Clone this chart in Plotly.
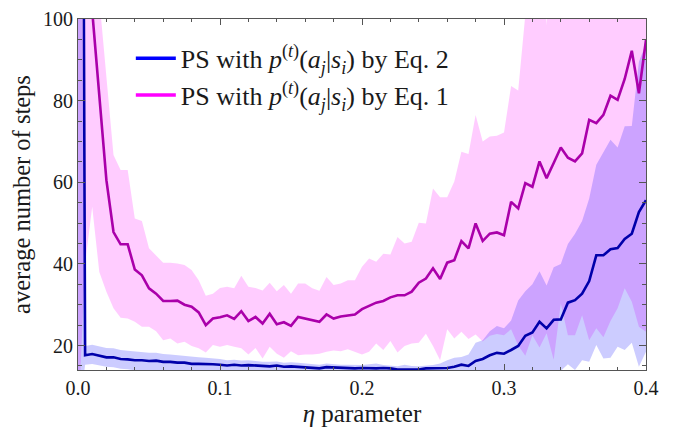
import numpy as np
import plotly.graph_objects as go

# eta grid (step 0.005)
eta = np.round(np.arange(81) * 0.005, 3)

# PS with Eq. 1 (magenta): mean, upper and lower band
eq1_mean = [300, 150, 102, 81, 60.5, 47.8, 44.8, 44.8, 38.6, 37.2,
            34.0, 32.7, 30.9, 30.9, 31.0, 30.0, 29.5, 28.1, 25.0, 26.6,
            26.9, 27.4, 26.5, 28.4, 26.0, 27.0, 25.4, 27.8, 25.2, 25.7,
            24.8, 27.0, 26.6, 26.1, 25.8, 27.6, 26.6, 27.1, 27.3, 27.6,
            28.9, 29.7, 30.5, 30.9, 31.8, 32.3, 32.3, 33.2, 35.4, 36.4,
            38.9, 36.3, 40.3, 40.9, 45.6, 43.8, 49.9, 45.6, 47.4, 47.7,
            47.0, 55.2, 53.6, 59.8, 58.9, 65.1, 61.0, 64.7, 68.5, 66.0,
            65.1, 67.1, 75.3, 74.5, 76.5, 81.2, 80.2, 85.3, 92.2, 81.8,
            94.9]
eq1_hi = [130, 130, 130, 105, 85.6, 66.7, 63.0, 63.0, 51.1, 50.5,
          43.8, 42.1, 40.3, 40.3, 40.1, 39.7, 38.5, 36.0, 32.2, 32.7,
          34.1, 34.4, 34.0, 37.1, 34.4, 34.1, 33.5, 35.4, 33.3, 34.8,
          32.7, 35.2, 35.2, 34.0, 33.4, 36.8, 34.8, 35.2, 36.0, 36.0,
          39.3, 41.3, 40.5, 42.5, 42.3, 46.6, 45.0, 45.4, 50.1, 49.9,
          58.5, 56.3, 56.3, 60.2, 67.5, 66.9, 76.5, 70.0, 71.2, 71.4,
          72.2, 83.6, 82.5, 101, 130, 130, 98.5, 130, 130, 130,
          130, 130, 130, 130, 130, 130, 130, 130, 130, 130,
          130]
eq1_lo = [0, 40, 54.0, 38.0, 33.2, 29.1, 26.8, 26.6, 25.8, 24.6,
          24.6, 23.5, 21.3, 21.7, 20.5, 20.9, 19.9, 19.3, 18.3, 20.1,
          19.7, 20.1, 19.7, 19.3, 17.8, 19.4, 16.8, 19.7, 18.0, 17.0,
          18.6, 17.6, 17.8, 17.8, 18.0, 18.5, 18.8, 18.6, 19.1, 18.5,
          17.8, 18.5, 20.5, 18.9, 21.1, 18.3, 19.9, 20.5, 20.7, 22.9,
          19.9, 16.4, 24.0, 21.7, 23.4, 21.6, 22.7, 21.0, 22.4, 22.8,
          22.5, 24.0, 20.0, 17.5, 22.5, 19.5, 23.0, 16.5, 30.3, 22.5,
          22.5, 27.4, 21.3, 24.2, 22.0, 26.0, 29.1, 34.0, 30.7, 24.6,
          23.4]

# PS with Eq. 2 (blue): mean, upper and lower band
eq2_mean = [500, 17.6, 17.9, 17.5, 17.1, 17.1, 16.7, 16.6, 16.4, 16.4,
            16.2, 16.3, 16.0, 16.0, 15.8, 15.8, 15.5, 15.5, 15.5, 15.4,
            15.3, 15.1, 15.3, 15.1, 15.2, 15.1, 14.9, 14.9, 15.1, 14.8,
            14.9, 14.8, 14.7, 14.6, 14.4, 14.7, 14.6, 14.5, 14.5, 14.4,
            14.5, 14.4, 14.4, 14.5, 14.4, 14.1, 14.1, 14.1, 14.1, 14.4,
            14.4, 14.5, 14.5, 14.8, 15.3, 15.0, 16.2, 16.7, 17.6, 18.2,
            18.0, 18.9, 19.9, 22.4, 23.2, 25.8, 24.2, 26.3, 26.4, 30.5,
            31.1, 32.7, 35.8, 42.1, 42.1, 43.6, 43.9, 46.1, 47.4, 52.7,
            55.6]
eq2_hi = [200, 19.9, 20.2, 19.8, 19.4, 19.3, 18.9, 18.7, 18.5, 18.4,
          18.2, 18.2, 17.9, 17.8, 17.6, 17.5, 17.2, 17.1, 17.0, 16.9,
          16.7, 16.4, 16.5, 16.3, 16.4, 16.2, 16.0, 16.0, 16.1, 15.8,
          15.9, 15.8, 15.6, 15.5, 15.3, 15.6, 15.4, 15.3, 15.3, 15.2,
          15.2, 15.4, 15.6, 15.2, 15.1, 14.9, 15.3, 15.0, 14.9, 15.1,
          15.2, 15.6, 16.4, 17.0, 17.2, 17.8, 20.7, 21.3, 23.5, 24.8,
          24.2, 26.1, 31.0, 33.3, 35.0, 38.2, 34.7, 39.2, 40.0, 44.9,
          47.4, 50.5, 56.0, 64.3, 67.5, 70.4, 68.5, 73.7, 73.8, 89.5,
          94.0]
eq2_lo = [0, 15.3, 15.5, 15.2, 14.8, 14.7, 14.3, 14.2, 13.9, 13.8,
          13.6, 13.6, 13.4, 13.3, 13.2, 13.1, 13.0, 12.9, 12.9, 12.8,
          12.7, 12.6, 12.7, 12.5, 12.6, 12.5, 12.4, 12.4, 12.5, 12.3,
          12.3, 12.2, 12.2, 12.1, 12.0, 12.2, 12.1, 12.0, 12.0, 12.0,
          12.0, 12.0, 12.0, 12.0, 12.0, 11.8, 11.8, 11.8, 11.8, 12.0,
          12.0, 12.0, 12.0, 12.2, 12.5, 12.3, 12.8, 12.9, 13.0, 13.1,
          13.0, 13.2, 13.3, 13.4, 13.5, 13.6, 13.5, 13.7, 13.8, 15.4,
          14.0, 16.4, 16.0, 20.1, 16.8, 17.0, 19.7, 18.9, 20.7, 14.8,
          18.5]

x_ticks = [0.0, 0.1, 0.2, 0.3, 0.4]
x_ticklabels = ["0.0", "0.1", "0.2", "0.3", "0.4"]
y_ticks = [20, 40, 60, 80, 100]
y_ticklabels = ["20", "40", "60", "80", "100"]

label_eq2 = "PS with <i>p</i><sup>(<i>t</i>)</sup>(<i>a</i><sub><i>j</i></sub>|<i>s</i><sub><i>i</i></sub>) by Eq. 2"
label_eq1 = "PS with <i>p</i><sup>(<i>t</i>)</sup>(<i>a</i><sub><i>j</i></sub>|<i>s</i><sub><i>i</i></sub>) by Eq. 1"

FONT = "Liberation Serif"
PINK_FILL = "rgba(255,0,255,0.2)"
BLUE_FILL = "rgba(0,0,255,0.2)"
TXT = "#1a1a1a"
AX = "#555555"

fig = go.Figure()
# magenta band
fig.add_trace(go.Scatter(x=eta, y=eq1_lo, mode="lines", line=dict(width=0),
                         showlegend=False, hoverinfo="skip"))
fig.add_trace(go.Scatter(x=eta, y=eq1_hi, mode="lines", line=dict(width=0),
                         fill="tonexty", fillcolor=PINK_FILL,
                         showlegend=False, hoverinfo="skip"))
# blue band
fig.add_trace(go.Scatter(x=eta, y=eq2_lo, mode="lines", line=dict(width=0),
                         showlegend=False, hoverinfo="skip"))
fig.add_trace(go.Scatter(x=eta, y=eq2_hi, mode="lines", line=dict(width=0),
                         fill="tonexty", fillcolor=BLUE_FILL,
                         showlegend=False, hoverinfo="skip"))
# mean lines
fig.add_trace(go.Scatter(x=eta, y=eq1_mean, mode="lines",
                         line=dict(color="#aa00aa", width=2.6),
                         showlegend=False))
fig.add_trace(go.Scatter(x=eta, y=eq2_mean, mode="lines",
                         line=dict(color="#0000aa", width=2.6),
                         showlegend=False))
# legend entries
fig.add_trace(go.Scatter(x=[None], y=[None], mode="lines",
                         line=dict(color="#0000ff", width=3.5),
                         name=label_eq2, legendgroup="a"))
fig.add_trace(go.Scatter(x=[None], y=[None], mode="lines",
                         line=dict(color="#ff00ff", width=3.5),
                         name=label_eq1, legendgroup="b"))

axis_common = dict(showline=True, linecolor=AX, linewidth=1,
                   mirror="allticks", ticks="inside", tickcolor=AX,
                   showgrid=False, zeroline=False,
                   tickfont=dict(family=FONT, size=20, color=TXT))

fig.update_xaxes(range=[0, 0.4], tickvals=x_ticks, ticktext=x_ticklabels,
                 ticklen=6, tickwidth=1,
                 minor=dict(dtick=0.02, tick0=0, ticks="inside", ticklen=3,
                            tickcolor=AX, showgrid=False),
                 title=dict(text="<i>η</i> parameter", standoff=6,
                            font=dict(family=FONT, size=25, color=TXT)),
                 **axis_common)
fig.update_yaxes(range=[14, 100], tickvals=y_ticks, ticktext=y_ticklabels,
                 ticklen=7, tickwidth=1,
                 minor=dict(dtick=5, tick0=0, ticks="inside", ticklen=4,
                            tickcolor=AX, showgrid=False),
                 title=dict(text="average number of steps", standoff=6,
                            font=dict(family=FONT, size=24.5, color=TXT)),
                 **axis_common)

# page body has an 8px margin: figure is 665x420 placed at (8, 8)
fig.update_layout(
    width=665, height=420,
    margin=dict(l=70, r=27, t=11, b=58, autoexpand=False),
    plot_bgcolor="white", paper_bgcolor="white",
    font=dict(family=FONT, color=TXT),
    legend=dict(x=0.093, y=0.955, xanchor="left", yanchor="top",
                bgcolor="rgba(0,0,0,0)", borderwidth=0,
                font=dict(family=FONT, size=26, color=TXT),
                traceorder="grouped", tracegroupgap=0, itemwidth=40),
)

fig.write_html("out.html")
